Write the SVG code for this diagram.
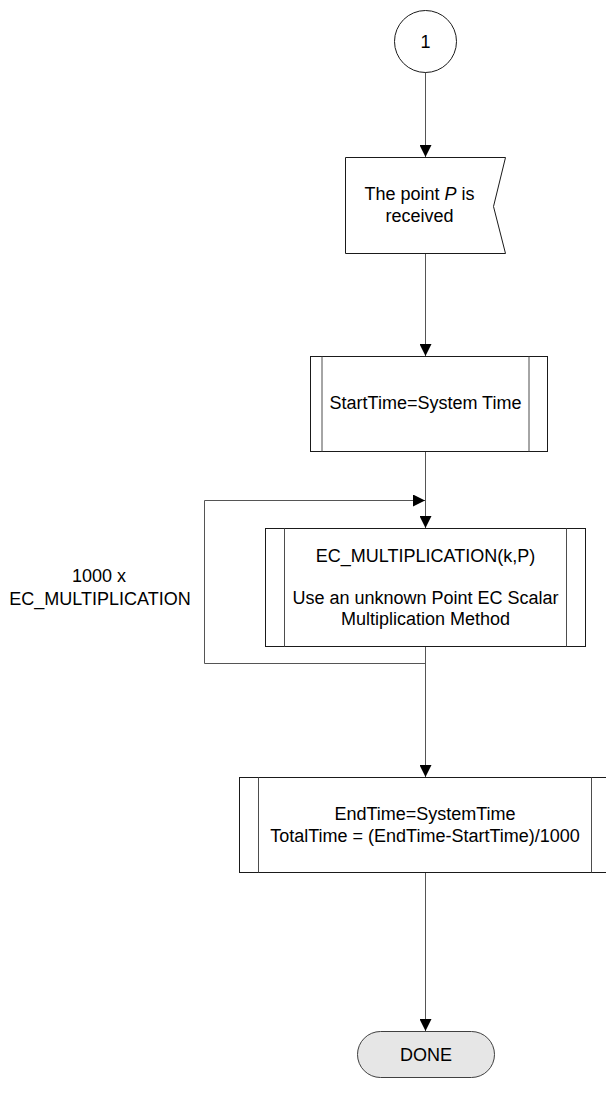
<svg xmlns="http://www.w3.org/2000/svg" width="606" height="1094" viewBox="0 0 606 1094">
  <style>
    .shape { fill: #ffffff; stroke: #1a1a1a; stroke-width: 1; }
    .inner { fill: none; stroke: #4d4d4d; stroke-width: 1; }
    .term { fill: #e6e6e6; stroke: #404040; stroke-width: 1; }
    .wire { fill: none; stroke: #555555; stroke-width: 1; }
    text { font-family: "Liberation Sans", Arial, sans-serif; font-size: 18px; fill: #000000; text-anchor: middle; }
  </style>
  <defs>
    <marker id="arrow" viewBox="0 0 12 12" refX="12" refY="6" markerWidth="12" markerHeight="12" markerUnits="userSpaceOnUse" orient="auto">
      <path d="M0,0 L12,6 L0,12 Z" fill="#000000"/>
    </marker>
  </defs>

  <!-- connectors -->
  <g id="connectors">
    <line class="wire" x1="425.5" y1="72" x2="425.5" y2="157" marker-end="url(#arrow)"/>
    <line class="wire" x1="425.5" y1="253" x2="425.5" y2="356" marker-end="url(#arrow)"/>
    <line class="wire" x1="425.5" y1="452" x2="425.5" y2="528" marker-end="url(#arrow)"/>
    <polyline class="wire" points="425.5,647 425.5,663.5 204.5,663.5 204.5,500.5 425,500.5" marker-end="url(#arrow)"/>
    <line class="wire" x1="425.5" y1="663" x2="425.5" y2="777" marker-end="url(#arrow)"/>
    <line class="wire" x1="425.5" y1="873" x2="425.5" y2="1031" marker-end="url(#arrow)"/>
  </g>

  <!-- off-page connector 1 -->
  <g id="node-connector-1">
    <circle class="shape" cx="425.5" cy="41.5" r="31"/>
    <text x="425.5" y="48">1</text>
  </g>

  <!-- received signal -->
  <g id="node-receive">
    <path class="shape" d="M345.5,157.5 L505.5,157.5 L493.5,206.5 L505.5,253.5 L345.5,253.5 Z"/>
    <text x="419.5" y="200">The point <tspan font-style="italic">P</tspan> is</text>
    <text x="419.5" y="221.5">received</text>
  </g>

  <!-- start time -->
  <g id="node-start-time">
    <rect class="shape" x="310.5" y="356.5" width="237" height="95"/>
    <line class="inner" x1="322" y1="356.5" x2="322" y2="451.5"/>
    <line class="inner" x1="529" y1="356.5" x2="529" y2="451.5"/>
    <text x="425.5" y="408.5">StartTime=System Time</text>
  </g>

  <!-- scalar multiplication -->
  <g id="node-multiplication">
    <rect class="shape" x="265.5" y="528.5" width="320" height="118"/>
    <line class="inner" x1="284.5" y1="528.5" x2="284.5" y2="646.5"/>
    <line class="inner" x1="566.5" y1="528.5" x2="566.5" y2="646.5"/>
    <text x="425.5" y="562">EC_MULTIPLICATION(k,P)</text>
    <text x="425.5" y="603.5">Use an unknown Point EC Scalar</text>
    <text x="425.5" y="625">Multiplication Method</text>
  </g>

  <!-- loop label -->
  <g id="label-loop">
    <text x="99" y="582">1000 x</text>
    <text x="100" y="605">EC_MULTIPLICATION</text>
  </g>

  <!-- end time -->
  <g id="node-end-time">
    <rect class="shape" x="239.5" y="777.5" width="372" height="95"/>
    <line class="inner" x1="258.5" y1="777.5" x2="258.5" y2="872.5"/>
    <line class="inner" x1="591.5" y1="777.5" x2="591.5" y2="872.5"/>
    <text x="425" y="820">EndTime=SystemTime</text>
    <text x="425" y="841.5">TotalTime = (EndTime-StartTime)/1000</text>
  </g>

  <!-- terminator -->
  <g id="node-done">
    <rect class="term" x="357.5" y="1031.5" width="137" height="46" rx="23" ry="23"/>
    <text x="426" y="1061">DONE</text>
  </g>
</svg>
